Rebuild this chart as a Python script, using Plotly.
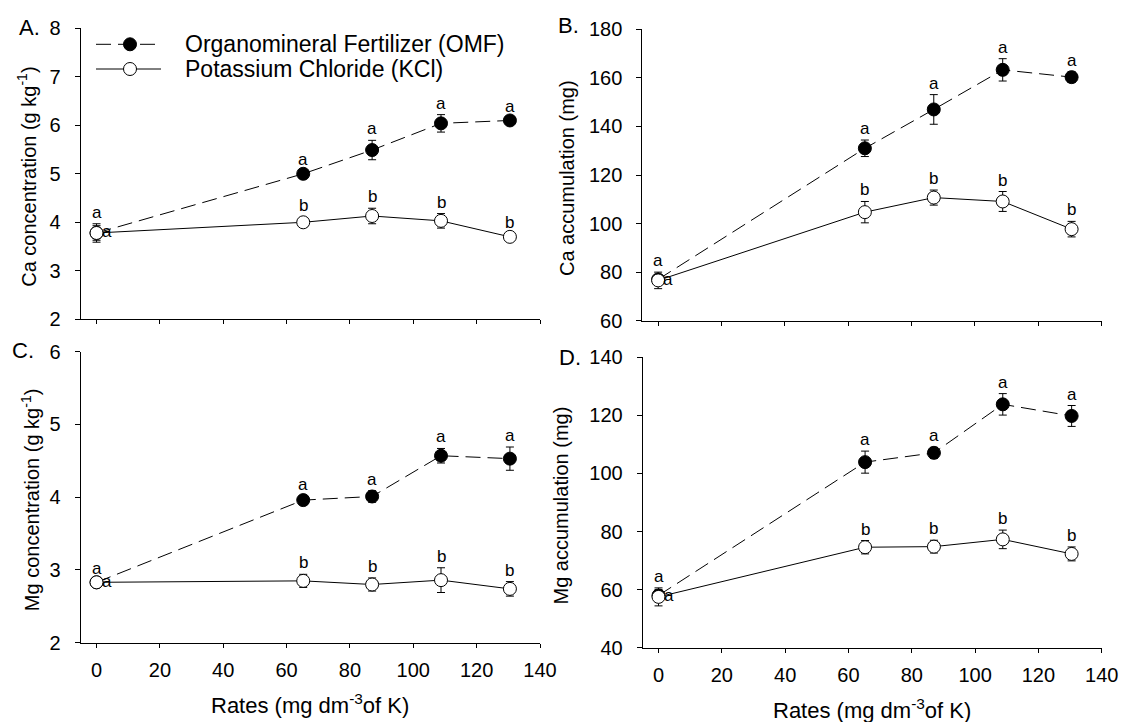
import plotly.graph_objects as go

W, H = 1123, 722

# ---------------- data ----------------
rates = [0, 65.25, 87, 108.75, 130.5]
x_ticks = [0, 20, 40, 60, 80, 100, 120, 140]
series_names = ["Organomineral Fertilizer (OMF)", "Potassium Chloride (KCl)"]

ca_conc_omf = [3.78, 5.00, 5.49, 6.04, 6.10]
ca_conc_omf_err = [0.15, 0.06, 0.20, 0.18, 0.05]
ca_conc_kcl = [3.78, 4.00, 4.13, 4.03, 3.70]
ca_conc_kcl_err = [0.19, 0.10, 0.16, 0.15, 0.06]

ca_acc_omf = [77.0, 131.0, 147.0, 163.3, 160.3]
ca_acc_omf_err = [2.0, 3.4, 6.1, 4.6, 2.2]
ca_acc_kcl = [76.6, 104.7, 110.7, 109.1, 97.7]
ca_acc_kcl_err = [3.4, 4.4, 3.1, 4.1, 3.2]

mg_conc_omf = [2.83, 3.96, 4.01, 4.57, 4.53]
mg_conc_omf_err = [0.03, 0.06, 0.08, 0.10, 0.16]
mg_conc_kcl = [2.83, 2.85, 2.80, 2.86, 2.74]
mg_conc_kcl_err = [0.03, 0.09, 0.09, 0.17, 0.10]

mg_acc_omf = [58.0, 103.9, 107.1, 123.8, 119.8]
mg_acc_omf_err = [2.0, 3.8, 1.9, 3.7, 3.6]
mg_acc_kcl = [57.5, 74.6, 74.8, 77.3, 72.3]
mg_acc_kcl_err = [3.1, 2.3, 2.2, 3.2, 2.4]

letters_omf = ["a", "a", "a", "a", "a"]
letters_kcl = ["a", "b", "b", "b", "b"]

panel_labels = ["A.", "B.", "C.", "D."]
y_titles = ["Ca concentration (g kg<sup>-1</sup>)", "Ca accumulation (mg)",
            "Mg concentration (g kg<sup>-1</sup>)", "Mg accumulation (mg)"]
x_title = "Rates (mg dm<sup>-3</sup>of K)"
y_ranges = [[2, 8], [60, 180], [2, 6], [40, 140]]
y_dticks = [1, 20, 1, 20]

# ---------------- layout helpers ----------------
FONT = "Liberation Sans, Arial, sans-serif"
INK = "black"

def px(x):
    return x / W

def py(y):
    return 1 - y / H

# pixel boxes [left, right, top, bottom]
boxes = [
    (80.7, 540.0, 28.3, 319.3),
    (642.3, 1101.7, 29.3, 320.7),
    (80.7, 540.0, 351.7, 642.7),
    (642.7, 1101.7, 357.3, 647.7),
]
ytitle_x = [27, 567, 30, 560]
label_pos = [(42, 28), (581, 26), (36, 350), (583, 357)]

panels = [
    (ca_conc_omf, ca_conc_omf_err, ca_conc_kcl, ca_conc_kcl_err),
    (ca_acc_omf, ca_acc_omf_err, ca_acc_kcl, ca_acc_kcl_err),
    (mg_conc_omf, mg_conc_omf_err, mg_conc_kcl, mg_conc_kcl_err),
    (mg_acc_omf, mg_acc_omf_err, mg_acc_kcl, mg_acc_kcl_err),
]

fig = go.Figure()
annotations = []
layout = {}

for i, (omf, omf_e, kcl, kcl_e) in enumerate(panels):
    n = "" if i == 0 else str(i + 1)
    xa, ya = "x" + n, "y" + n
    L, R, T, B = boxes[i]

    fig.add_trace(go.Scatter(
        x=rates, y=omf, xaxis=xa, yaxis=ya, mode="lines+markers",
        name=series_names[0], showlegend=False,
        line=dict(color=INK, width=1, dash="15px,7px"),
        marker=dict(symbol="circle", size=13, color=INK, line=dict(color=INK, width=1)),
        error_y=dict(type="data", array=omf_e, visible=True, color=INK, thickness=1, width=4),
    ))
    fig.add_trace(go.Scatter(
        x=rates, y=kcl, xaxis=xa, yaxis=ya, mode="lines+markers",
        name=series_names[1], showlegend=False,
        line=dict(color=INK, width=1),
        marker=dict(symbol="circle", size=13, color="white", line=dict(color=INK, width=1)),
        error_y=dict(type="data", array=kcl_e, visible=True, color=INK, thickness=1, width=4),
    ))

    layout["xaxis" + n] = dict(
        domain=[px(L), px(R)], anchor=ya, range=[-5, 140], automargin=False,
        tickmode="array", tickvals=x_ticks, ticks="outside", ticklen=4,
        tickcolor=INK, showline=True, linecolor=INK, linewidth=1,
        showgrid=False, zeroline=False, showticklabels=(i >= 2),
        tickfont=dict(family=FONT, size=20, color=INK), ticklabelstandoff=5,
    )
    layout["yaxis" + n] = dict(
        domain=[py(B), py(T)], anchor=xa, range=y_ranges[i], dtick=y_dticks[i],
        tick0=y_ranges[i][0], ticks="outside", ticklen=5, tickcolor=INK, automargin=False,
        showline=True, linecolor=INK, linewidth=1, showgrid=False, zeroline=False,
        tickfont=dict(family=FONT, size=20, color=INK), ticklabelstandoff=10,
    )

    # significance letters
    for j, r in enumerate(rates):
        top_o = omf[j] + omf_e[j]
        top_k = kcl[j] + kcl_e[j]
        if j == 0:
            annotations.append(dict(x=r, y=max(top_o, top_k), xref=xa, yref=ya,
                                    text=letters_omf[j], showarrow=False,
                                    yanchor="bottom", xanchor="center",
                                    font=dict(family=FONT, size=17, color=INK)))
            annotations.append(dict(x=r, y=kcl[j], xref=xa, yref=ya,
                                    text=letters_kcl[j], showarrow=False,
                                    yanchor="middle", xanchor="left", xshift=3, yshift=1,
                                    font=dict(family=FONT, size=17, color=INK)))
        else:
            annotations.append(dict(x=r, y=top_o, xref=xa, yref=ya,
                                    text=letters_omf[j], showarrow=False,
                                    yanchor="bottom", xanchor="center",
                                    font=dict(family=FONT, size=17, color=INK)))
            annotations.append(dict(x=r, y=top_k, xref=xa, yref=ya,
                                    text=letters_kcl[j], showarrow=False,
                                    yanchor="bottom", xanchor="center",
                                    font=dict(family=FONT, size=17, color=INK)))

    # y title
    annotations.append(dict(x=px(ytitle_x[i]), y=py((T + B) / 2 + 3), xref="paper", yref="paper",
                            text=y_titles[i], textangle=-90, showarrow=False,
                            xanchor="center", yanchor="middle",
                            font=dict(family=FONT, size=20, color=INK)))
    # panel label
    annotations.append(dict(x=px(label_pos[i][0]), y=py(label_pos[i][1]), xref="paper", yref="paper",
                            text=panel_labels[i], showarrow=False,
                            xanchor="right", yanchor="middle",
                            font=dict(family=FONT, size=22, color=INK)))
    # x title for bottom panels
    if i >= 2:
        annotations.append(dict(x=px((L + R) / 2), y=py(B + 61), xref="paper", yref="paper",
                                text=x_title, showarrow=False,
                                xanchor="center", yanchor="middle",
                                font=dict(family=FONT, size=22, color=INK)))

# ---------------- manual legend (panel A) ----------------
shapes = []
legend_rows = [(44.3, True, series_names[0]), (69.0, False, series_names[1])]
for yy, filled, name in legend_rows:
    shapes.append(dict(type="line", xref="paper", yref="paper",
                       x0=px(96), x1=px(161), y0=py(yy), y1=py(yy),
                       line=dict(color=INK, width=1, dash="15px,7px" if filled else "solid")))
    shapes.append(dict(type="circle", xref="paper", yref="paper",
                       xsizemode="pixel", ysizemode="pixel",
                       xanchor=px(130), yanchor=py(yy),
                       x0=-6.5, x1=6.5, y0=-6.5, y1=6.5,
                       fillcolor=INK if filled else "white",
                       line=dict(color=INK, width=1)))
    annotations.append(dict(x=px(183), y=py(yy), xref="paper", yref="paper",
                            text=name, showarrow=False, xanchor="left", yanchor="middle",
                            font=dict(family=FONT, size=23, color=INK)))

fig.update_layout(
    width=W, height=H, autosize=False,
    margin=dict(l=0, r=0, t=0, b=0, pad=0, autoexpand=False),
    paper_bgcolor="white", plot_bgcolor="white",
    showlegend=False,
    annotations=annotations, shapes=shapes,
    font=dict(family=FONT, color=INK),
    **layout,
)

fig.write_html(
    "out.html",
    config={"displayModeBar": False, "responsive": False},
    post_script="document.body.style.margin='0';document.body.style.padding='0';"
                "document.body.style.overflow='hidden';",
)
